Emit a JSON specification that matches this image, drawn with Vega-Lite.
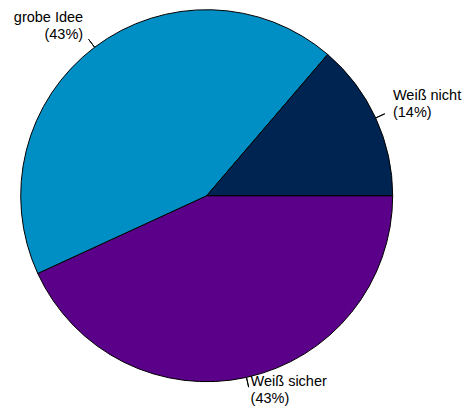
{
  "$schema": "https://vega.github.io/schema/vega-lite/v6.json",
  "width": 372,
  "height": 372,
  "autosize": "none",
  "padding": {"left": 20.7, "top": 9.7, "right": 74.3, "bottom": 27.3},
  "background": "white",
  "config": {"view": {"stroke": null}},
  "data": {
    "values": [
      {"Antwort": "Weiß sicher", "Anzahl": 22, "ord": 1},
      {"Antwort": "grobe Idee", "Anzahl": 22, "ord": 2},
      {"Antwort": "Weiß nicht", "Anzahl": 7, "ord": 3}
    ]
  },
  "transform": [
    {"stack": "Anzahl", "groupby": [], "sort": [{"field": "ord", "order": "ascending"}], "as": ["t0", "t1"]},
    {"joinaggregate": [{"op": "sum", "field": "Anzahl", "as": "total"}]},
    {"calculate": "datum.Antwort + '\\n(' + format(datum.Anzahl / datum.total * 100, '.0f') + '%)'", "as": "label"}
  ],
  "layer": [
    {
      "mark": {"type": "arc", "outerRadius": 186, "stroke": "black", "strokeWidth": 1},
      "encoding": {
        "theta": {"field": "t1", "type": "quantitative", "stack": null, "scale": {"range": [1.5707963, 7.8539816], "zero": true}},
        "theta2": {"field": "t0"},
        "color": {
          "field": "Antwort",
          "type": "nominal",
          "scale": {"domain": ["Weiß sicher", "grobe Idee", "Weiß nicht"], "range": ["#5a0089", "#008fc5", "#002451"]},
          "legend": null
        }
      }
    },
    {
      "transform": [
        {"fold": ["t0", "t1"], "as": ["k", "v"]},
        {"aggregate": [{"op": "mean", "field": "v", "as": "mid"}], "groupby": ["Antwort"]}
      ],
      "mark": {"type": "arc", "radius": 196, "radius2": 186, "stroke": "black", "strokeWidth": 1, "fill": null},
      "encoding": {
        "theta": {"field": "mid", "type": "quantitative", "stack": null},
        "theta2": {"field": "mid"}
      }
    },
    {
      "transform": [
        {"fold": ["t0", "t1"], "as": ["k", "v"]},
        {"aggregate": [{"op": "mean", "field": "v", "as": "mid"}], "groupby": ["Antwort", "label"]}
      ],
      "mark": {
        "type": "text",
        "radius": 205,
        "font": "Liberation Sans",
        "fontSize": 14.5,
        "lineHeight": 17,
        "lineBreak": "\n",
        "baseline": "middle",
        "dy": -14,
        "color": "black",
        "align": {"expr": "datum.Antwort == 'grobe Idee' ? 'right' : 'left'"}
      },
      "encoding": {
        "theta": {"field": "mid", "type": "quantitative", "stack": null},
        "text": {"field": "label"}
      }
    }
  ]
}
